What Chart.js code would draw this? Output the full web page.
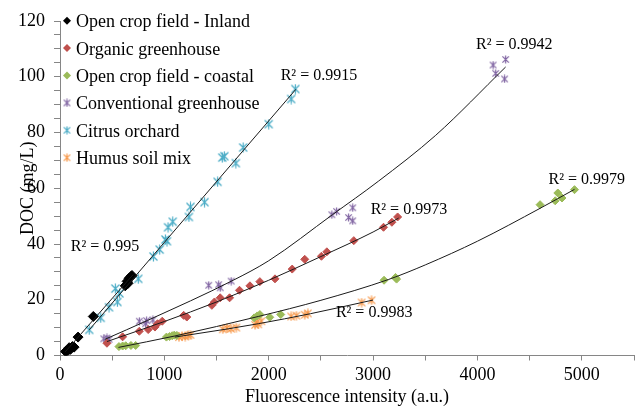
<!DOCTYPE html>
<html lang="en">
<head>
  <meta charset="UTF-8" />
  <title>DOC vs fluorescence intensity</title>
  <script src="https://cdn.jsdelivr.net/npm/chart.js"></script>
  <style>
    body { margin: 0; background: #fff; }
    #wrap { width: 641px; height: 410px; }
  </style>
</head>
<body>
  <div id="wrap"><canvas id="docChart" width="641" height="410"></canvas></div>

  <script>
    // measured points (fluorescence a.u. / DOC mg/L)
    const inlandX = [55, 60, 88, 100, 119, 135, 173, 319, 625, 643, 652, 662, 681, 690];
    const inlandY = [1.5, 1.2, 2.8, 2.2, 3.2, 3.0, 6.6, 14, 25, 26.6, 25.9, 27.7, 28.4, 28.7];

    const organicX = [450, 600, 760, 845, 910, 935, 980, 1185, 1215, 1455, 1480, 1535, 1625, 1720, 1820, 1915, 2060, 2225, 2345, 2505, 2557, 2815, 3100, 3180, 3235];
    const organicY = [4.4, 6.7, 8.7, 9.3, 10.2, 11.4, 12.3, 14.4, 13.8, 18, 19.2, 20.7, 20.7, 23.4, 25, 26.5, 27.5, 31, 34.5, 35.6, 37.2, 41.2, 46, 47.8, 49.7];

    const coastalX = [565, 600, 630, 680, 725, 1020, 1050, 1075, 1095, 1120, 1860, 1890, 1915, 2010, 2115, 3105, 3215, 3225, 4600, 4745, 4770, 4810, 4930];
    const coastalY = [3.2, 3.4, 3.5, 3.6, 3.6, 6.6, 6.8, 7.1, 7.3, 7.2, 13.5, 14.2, 14.7, 13.7, 14.7, 27, 28, 27.4, 54.1, 55.5, 58.3, 56.5, 59.5];

    const conventionalX = [420, 450, 470, 760, 820, 830, 890, 1425, 1520, 1535, 1640, 2605, 2650, 2765, 2805, 2805, 4150, 4175, 4260, 4270];
    const conventionalY = [6, 6.3, 5.8, 12.3, 11.4, 12.5, 12.8, 25.2, 25.4, 24.3, 26.7, 50.5, 51.7, 49.5, 53, 48.3, 104.2, 101.2, 99.2, 106.2];

    const citrusX = [280, 390, 470, 550, 530, 570, 750, 895, 955, 1010, 1025, 1035, 1080, 1235, 1250, 1385, 1510, 1555, 1575, 1685, 1755, 2000, 2215, 2255];
    const citrusY = [9.2, 13.5, 17.3, 19.2, 24, 22.3, 27.5, 35.5, 38, 41.6, 41, 46, 48, 49.7, 53.3, 55, 62.3, 71, 71.5, 69, 74.6, 83, 92, 95.6];

    const humusX = [1140, 1170, 1200, 1230, 1250, 1560, 1600, 1640, 1690, 1870, 1885, 1900, 1930, 2215, 2265, 2345, 2375, 2890, 2985];
    const humusY = [6.6, 7, 6.8, 7.2, 7.4, 9.4, 9.8, 9.6, 10, 11, 12, 11.2, 12.3, 14, 14.3, 14.6, 15.1, 19, 19.8];

    // trend lines
    const inlandFitX = [50, 700];
    const inlandFitY = [1.3, 29];
    const citrusFitX = [280, 2260];
    const citrusFitY = [9.2, 95.5];
    const organicFitX = [450, 1000, 1500, 2000, 2500, 3000, 3245];
    const organicFitY = [5, 12.2, 19.2, 27, 35.5, 44.3, 49.3];
    const conventionalFitX = [430, 840, 1660, 2000, 2610, 3050, 3600, 4270];
    const conventionalFitY = [5.8, 12.6, 27, 34, 50.5, 62.5, 79, 103.5];
    const coastalFitX = [560, 1100, 1900, 2500, 3150, 3500, 4000, 4600, 4930];
    const coastalFitY = [2.9, 7, 14, 19.8, 27.3, 32.5, 41, 52.8, 59.6];
    const humusFitX = [1100, 1600, 1900, 2400, 3000];
    const humusFitY = [6.6, 9.5, 11.4, 15, 19.9];

    const seriesNames = ['Open crop field - Inland', 'Organic greenhouse', 'Open crop field - coastal',
                         'Conventional greenhouse', 'Citrus orchard', 'Humus soil mix'];
    const r2Texts = ['R² = 0.995', 'R² = 0.9915', 'R² = 0.9942', 'R² = 0.9973', 'R² = 0.9979', 'R² = 0.9983'];
    const r2X = [431, 2481, 4353, 3343, 5047, 3010];
    const r2Y = [39, 100.5, 111.6, 52.2, 62.9, 15.3];

    const xTicks = [0, 1000, 2000, 3000, 4000, 5000];
    const yTicks = [0, 20, 40, 60, 80, 100, 120];

    const FONT = "'Liberation Serif', 'Times New Roman', serif";

    function pts(xs, ys) {
      return xs.map((x, i) => ({ x: x, y: ys[i] }));
    }

    // excel-like star marker: an x with a vertical bar
    function starImage(color, size) {
      const c = document.createElement('canvas');
      c.width = size;
      c.height = size;
      const g = c.getContext('2d');
      g.strokeStyle = color;
      g.lineWidth = 1.2;
      const m = size / 2, r = size / 2 - 0.5, d = r * 0.8;
      g.beginPath();
      g.moveTo(m - d, m - d); g.lineTo(m + d, m + d);
      g.moveTo(m + d, m - d); g.lineTo(m - d, m + d);
      g.moveTo(m, m - r); g.lineTo(m, m + r);
      g.stroke();
      return c;
    }

    const colors = ['#000000', '#C0504D', '#9BBB59', '#8064A2', '#4BACC6', '#F79646'];
    const markers = [
      'rectRot', 'rectRot', 'rectRot',
      starImage(colors[3], 9), starImage(colors[4], 11), starImage(colors[5], 10)
    ];
    const sizes = [5, 4, 4, 5, 6, 5];

    const pointSets = [
      pts(inlandX, inlandY), pts(organicX, organicY), pts(coastalX, coastalY),
      pts(conventionalX, conventionalY), pts(citrusX, citrusY), pts(humusX, humusY)
    ];
    const fitSets = [
      pts(inlandFitX, inlandFitY), pts(organicFitX, organicFitY), pts(coastalFitX, coastalFitY),
      pts(conventionalFitX, conventionalFitY), pts(citrusFitX, citrusFitY), pts(humusFitX, humusFitY)
    ];

    const datasets = [];
    pointSets.forEach((data, i) => {
      datasets.push({
        label: seriesNames[i],
        data: data,
        pointStyle: markers[i],
        pointRadius: sizes[i],
        backgroundColor: colors[i],
        borderColor: colors[i],
        borderWidth: 1,
        order: 1
      });
    });
    fitSets.forEach((data, i) => {
      datasets.push({
        label: 'fit ' + i,
        data: data,
        showLine: true,
        pointRadius: 0,
        borderColor: '#1a1a1a',
        borderWidth: 1,
        cubicInterpolationMode: 'monotone',
        order: 0
      });
    });

    // legend inside the plot, top-left
    const legendPlugin = {
      id: 'insideLegend',
      afterDraw(chart) {
        const ctx = chart.ctx;
        ctx.save();
        ctx.font = '18px ' + FONT;
        ctx.fillStyle = '#000';
        ctx.textBaseline = 'alphabetic';
        seriesNames.forEach((name, i) => {
          const y = 20.7 + 27.4 * i;
          const x = 67;
          if (typeof markers[i] === 'string') {
            ctx.save();
            ctx.fillStyle = colors[i];
            ctx.beginPath();
            ctx.moveTo(x, y - 4); ctx.lineTo(x + 4, y); ctx.lineTo(x, y + 4); ctx.lineTo(x - 4, y);
            ctx.closePath();
            ctx.fill();
            ctx.restore();
          } else {
            const img = starImage(colors[i], 9);
            ctx.drawImage(img, x - 4.5, y - 4.5);
          }
          ctx.fillText(name, 76, y + 6.5);
        });
        ctx.restore();
      }
    };

    const r2Plugin = {
      id: 'r2Labels',
      afterDraw(chart) {
        const ctx = chart.ctx;
        const xs = chart.scales.x, ys = chart.scales.y;
        ctx.save();
        ctx.font = '16px ' + FONT;
        ctx.fillStyle = '#000';
        ctx.textAlign = 'center';
        ctx.textBaseline = 'middle';
        r2Texts.forEach((t, i) => {
          ctx.fillText(t, xs.getPixelForValue(r2X[i]), ys.getPixelForValue(r2Y[i]));
        });
        ctx.restore();
      }
    };

    const axisColor = '#868686';

    new Chart(document.getElementById('docChart'), {
      type: 'scatter',
      data: { datasets: datasets },
      options: {
        responsive: false,
        animation: false,
        devicePixelRatio: 1,
        layout: { padding: { top: 21, right: -3, left: 0, bottom: 0 } },
        plugins: {
          legend: { display: false },
          tooltip: { enabled: false }
        },
        scales: {
          x: {
            type: 'linear',
            min: 0,
            max: 5500,
            ticks: {
              stepSize: 500,
              autoSkip: false,
              maxRotation: 0,
              padding: 4,
              color: '#000',
              font: { family: FONT, size: 18 },
              callback: v => xTicks.includes(v) ? v : ''
            },
            grid: { drawOnChartArea: false, drawTicks: true, tickLength: 5, color: axisColor },
            border: { color: axisColor, width: 1 },
            title: {
              display: true,
              text: 'Fluorescence intensity (a.u.)',
              color: '#000',
              font: { family: FONT, size: 18 },
              padding: { top: 0, bottom: 2 }
            },
            afterFit: s => { s.height = 54.5; }
          },
          y: {
            type: 'linear',
            min: 0,
            max: 120,
            ticks: {
              stepSize: 5,
              autoSkip: false,
              padding: 9,
              color: '#000',
              font: { family: FONT, size: 18 },
              callback: v => yTicks.includes(v) ? v : ''
            },
            grid: { drawOnChartArea: false, drawTicks: true, tickLength: 6, color: axisColor },
            border: { color: axisColor, width: 1 },
            title: {
              display: true,
              text: 'DOC (mg/L)',
              color: '#000',
              font: { family: FONT, size: 18 },
              padding: { top: 17, bottom: 0 }
            },
            afterFit: s => { s.width = 60; }
          }
        }
      },
      plugins: [legendPlugin, r2Plugin]
    });
  </script>
</body>
</html>
